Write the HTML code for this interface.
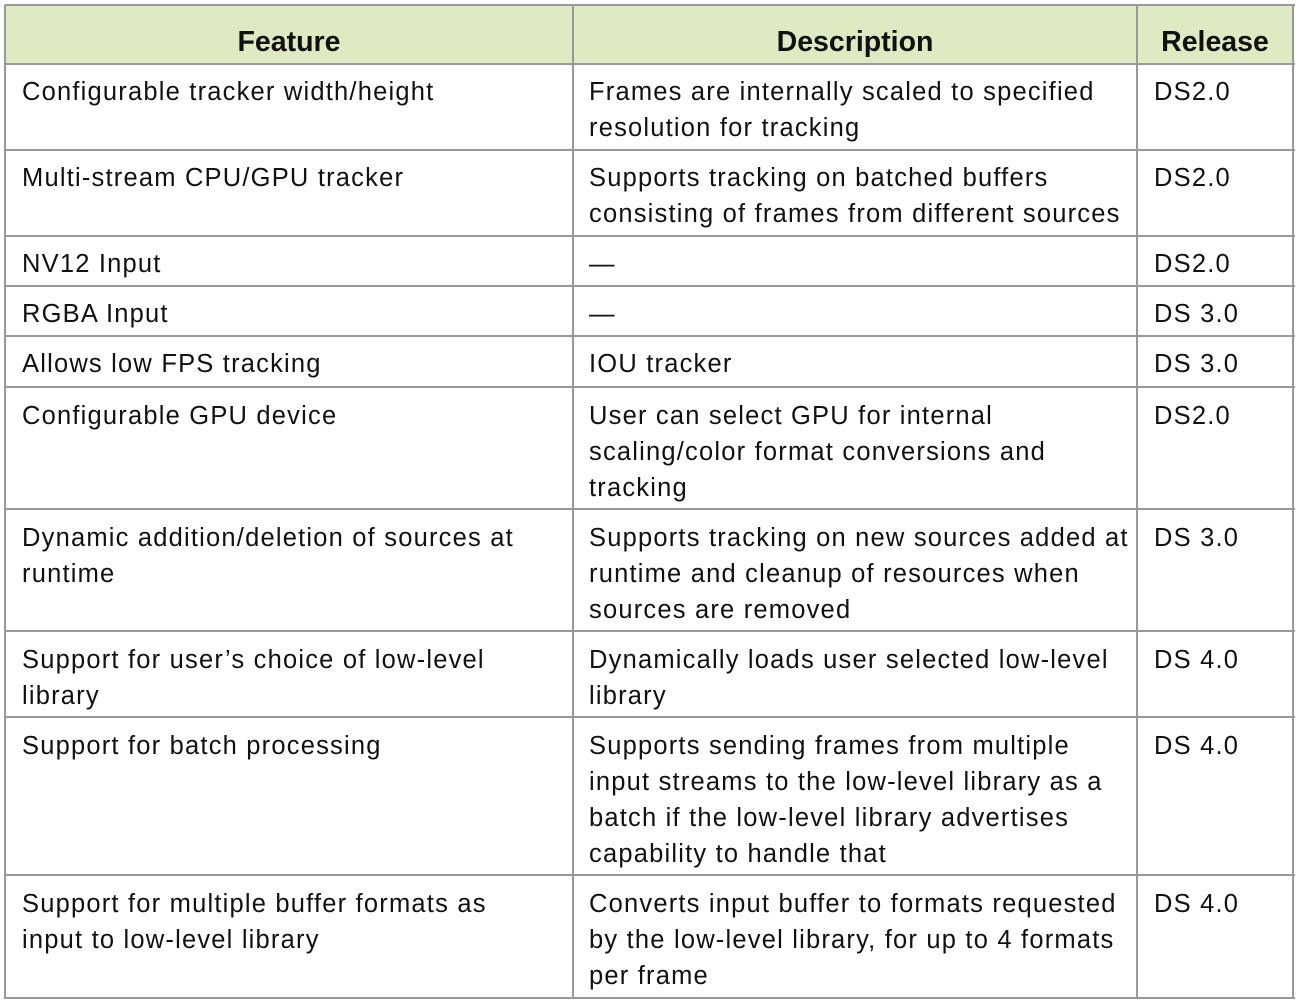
<!DOCTYPE html><html><head><style>
body{margin:0;width:1296px;height:1002px;background:#fff;position:relative;overflow:hidden;font-family:"Liberation Sans",sans-serif;color:#111}
.h{position:absolute;left:5px;top:5px;width:1288px;height:59px;background:#ddeac2}
.v,.r{position:absolute;background:#999}
.v{width:2px;top:5px;height:994px}
.r{height:2px;left:5px;width:1290px}
.t{position:absolute;font-size:25.5px;letter-spacing:1.2px;line-height:36px;white-space:nowrap}
.hd{position:absolute;top:24px;font-size:28.5px;font-weight:bold;text-align:center;line-height:36px}
</style></head><body>
<div class="h"></div>
<div class="v" style="left:4px"></div><div class="v" style="left:572px"></div><div class="v" style="left:1136px"></div><div class="v" style="left:1292px"></div>
<div class="r" style="top:4px"></div><div class="r" style="top:63px"></div><div class="r" style="top:149px"></div><div class="r" style="top:235px"></div><div class="r" style="top:285px"></div><div class="r" style="top:335px"></div><div class="r" style="top:386px"></div><div class="r" style="top:508px"></div><div class="r" style="top:630px"></div><div class="r" style="top:716px"></div><div class="r" style="top:874px"></div><div class="r" style="top:997px"></div>
<div class="hd" style="left:5px;width:568px">Feature</div>
<div class="hd" style="left:573px;width:564px">Description</div>
<div class="hd" style="left:1137px;width:156px">Release</div>

<div class="t" style="left:22px;top:74px">Configurable tracker width/height</div>
<div class="t" style="left:589px;top:74px">Frames are internally scaled to specified<br>resolution for tracking</div>
<div class="t" style="left:1154px;top:74px">DS2.0</div>

<div class="t" style="left:22px;top:160px">Multi-stream CPU/GPU tracker</div>
<div class="t" style="left:589px;top:160px">Supports tracking on batched buffers<br>consisting of frames from different sources</div>
<div class="t" style="left:1154px;top:160px">DS2.0</div>

<div class="t" style="left:22px;top:246px">NV12 Input</div>
<div class="t" style="left:589px;top:246px">—</div>
<div class="t" style="left:1154px;top:246px">DS2.0</div>

<div class="t" style="left:22px;top:296px">RGBA Input</div>
<div class="t" style="left:589px;top:296px">—</div>
<div class="t" style="left:1154px;top:296px">DS 3.0</div>

<div class="t" style="left:22px;top:346px">Allows low FPS tracking</div>
<div class="t" style="left:589px;top:346px">IOU tracker</div>
<div class="t" style="left:1154px;top:346px">DS 3.0</div>

<div class="t" style="left:22px;top:398px">Configurable GPU device</div>
<div class="t" style="left:589px;top:398px">User can select GPU for internal<br>scaling/color format conversions and<br>tracking</div>
<div class="t" style="left:1154px;top:398px">DS2.0</div>

<div class="t" style="left:22px;top:520px">Dynamic addition/deletion of sources at<br>runtime</div>
<div class="t" style="left:589px;top:520px">Supports tracking on new sources added at<br>runtime and cleanup of resources when<br>sources are removed</div>
<div class="t" style="left:1154px;top:520px">DS 3.0</div>

<div class="t" style="left:22px;top:642px">Support for user’s choice of low-level<br>library</div>
<div class="t" style="left:589px;top:642px">Dynamically loads user selected low-level<br>library</div>
<div class="t" style="left:1154px;top:642px">DS 4.0</div>

<div class="t" style="left:22px;top:728px">Support for batch processing</div>
<div class="t" style="left:589px;top:728px">Supports sending frames from multiple<br>input streams to the low-level library as a<br>batch if the low-level library advertises<br>capability to handle that</div>
<div class="t" style="left:1154px;top:728px">DS 4.0</div>

<div class="t" style="left:22px;top:886px">Support for multiple buffer formats as<br>input to low-level library</div>
<div class="t" style="left:589px;top:886px">Converts input buffer to formats requested<br>by the low-level library, for up to 4 formats<br>per frame</div>
<div class="t" style="left:1154px;top:886px">DS 4.0</div>
</body></html>
